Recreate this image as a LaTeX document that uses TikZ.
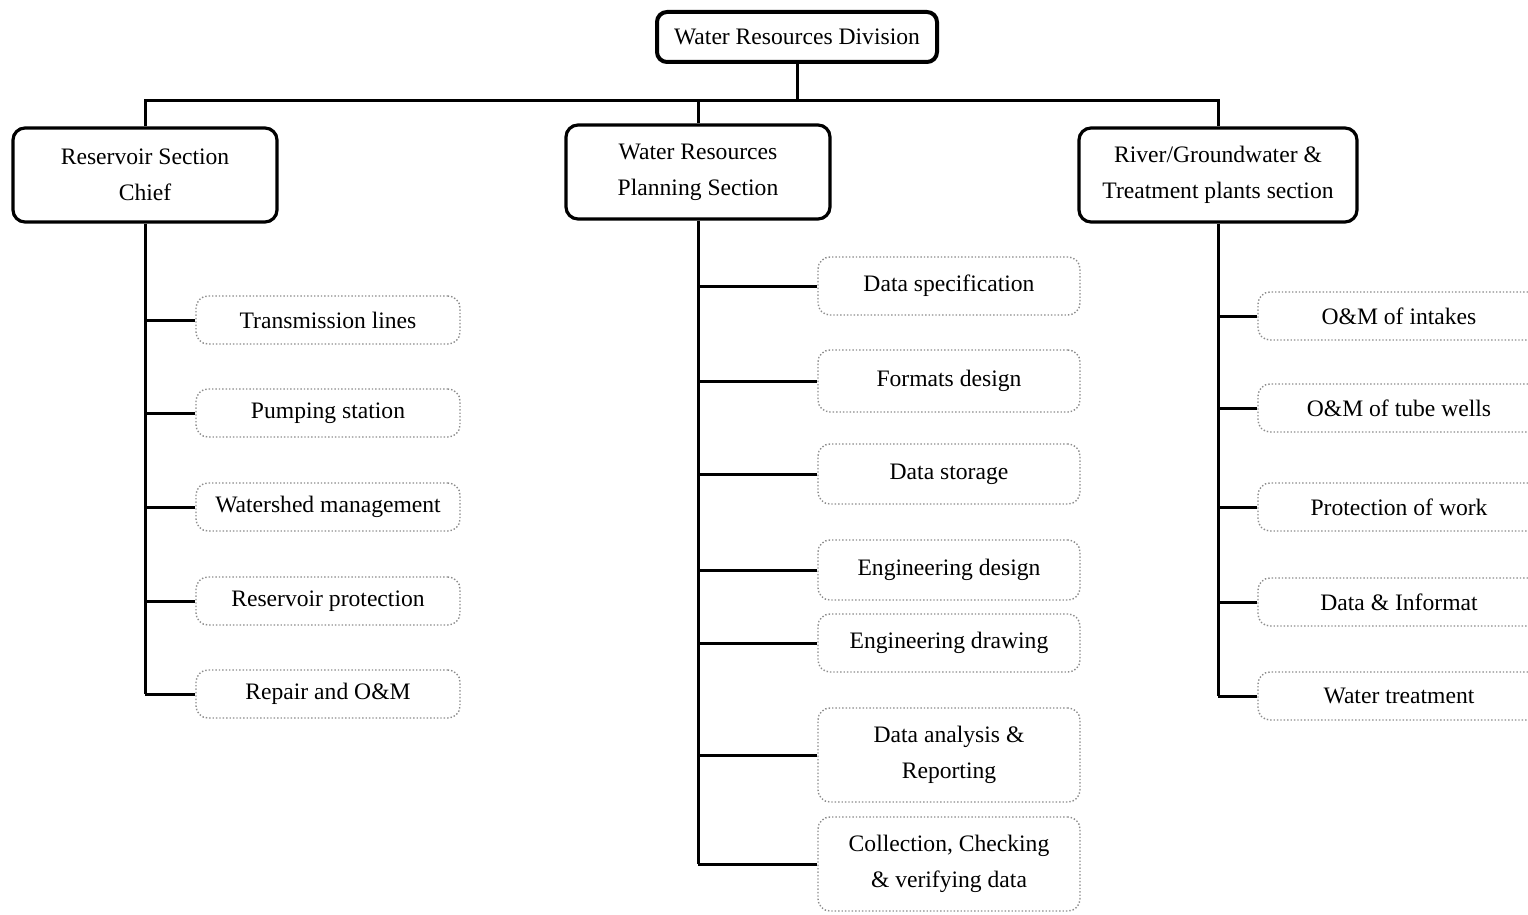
\documentclass[tikz,border=0pt]{standalone}
\usepackage{fontspec}
\setmainfont{Liberation Serif}

\tikzset{every picture/.style={line width=0.75pt}}
\tikzset{
  conn/.style={line width=1.5pt, black},
  topbox/.style={draw, line width=2pt, rounded corners=5pt, minimum width=140pt, minimum height=25pt, inner sep=0.75pt, font=\fontsize{11.8}{18}\selectfont},
  secbox/.style={draw, line width=1.6pt, rounded corners=6pt, minimum width=132pt, minimum height=47pt, align=center, inner sep=0.75pt, font=\fontsize{11.8}{18}\selectfont},
  taskbox/.style={draw=black!45, densely dotted, line width=0.7pt, rounded corners=6pt, minimum width=132pt, minimum height=24pt, align=center, inner sep=0.75pt, font=\fontsize{11.8}{18}\selectfont},
}

\begin{document}
\begin{tikzpicture}[x=0.5pt,y=0.5pt,yscale=-1,xscale=1]
        \useasboundingbox (0,0) rectangle (1528,915);

        % Top Node
        \node [topbox] (wrd) at (797,37) {Water Resources Division};
        % Section Nodes
        \node [secbox] (res) at (145,175) {Reservoir Section\\Chief};
        \node [secbox] (wrp) at (698,172) {Water Resources\\Planning Section};
        \node [secbox, minimum width=139pt] (riv) at (1218,175) {River/Groundwater \&\\Treatment plants section};

        % Bus line
        \coordinate (bus) at (797,101);
        \draw [conn] (wrd.south) -- (bus);
        \draw [conn] (res.north) |- (bus) -| (riv.north);
        \draw [conn] (wrp.north) -- (wrp.north |- bus);

        % Reservoir tasks
        \node [taskbox] (tl) at (328,320) {Transmission lines};
        \node [taskbox] (ps) at (328,413) {Pumping station};
        \node [taskbox] (wm) at (328,507) {Watershed management};
        \node [taskbox] (rp) at (328,601) {Reservoir protection};
        \node [taskbox] (rom) at (328,694) {Repair and O\&M};

        %Straight Lines
        \draw [conn] (res.south) -- (res.south |- rom.west);
        \draw [conn] (res.south |- tl.west) -- (tl.west);
        \draw [conn] (res.south |- ps.west) -- (ps.west);
        \draw [conn] (res.south |- wm.west) -- (wm.west);
        \draw [conn] (res.south |- rp.west) -- (rp.west);
        \draw [conn] (res.south |- rom.west) -- (rom.west);

        % Planning tasks
        \node [taskbox, minimum width=131pt, minimum height=29pt] (dsp) at (949,286) {Data specification};
        \node [taskbox, minimum width=131pt, minimum height=31pt] (fd) at (949,381) {Formats design};
        \node [taskbox, minimum width=131pt, minimum height=30pt] (dst) at (949,474) {Data storage};
        \node [taskbox, minimum width=131pt, minimum height=30pt] (ed) at (949,570) {Engineering design};
        \node [taskbox, minimum width=131pt, minimum height=29pt] (edr) at (949,643) {Engineering drawing};
        \node [taskbox, minimum width=131pt, minimum height=47pt] (dar) at (949,755) {Data analysis \&\\Reporting};
        \node [taskbox, minimum width=131pt, minimum height=47pt] (ccv) at (949,864) {Collection, Checking\\\& verifying data};

        %Straight Lines
        \draw [conn] (wrp.south) -- (wrp.south |- ccv.west);
        \draw [conn] (wrp.south |- dsp.west) -- (dsp.west);
        \draw [conn] (wrp.south |- fd.west) -- (fd.west);
        \draw [conn] (wrp.south |- dst.west) -- (dst.west);
        \draw [conn] (wrp.south |- ed.west) -- (ed.west);
        \draw [conn] (wrp.south |- edr.west) -- (edr.west);
        \draw [conn] (wrp.south |- dar.west) -- (dar.west);
        \draw [conn] (wrp.south |- ccv.west) -- (ccv.west);

        % River tasks
        \node [taskbox, minimum width=141pt] (oi) at (1399,316) {O\&M of intakes};
        \node [taskbox, minimum width=141pt] (otw) at (1399,408) {O\&M of tube wells};
        \node [taskbox, minimum width=141pt] (pw) at (1399,507) {Protection of work};
        \node [taskbox, minimum width=141pt] (di) at (1399,602) {Data \& Informat};
        \node [taskbox, minimum width=141pt] (wt) at (1399,696) {Water treatment};

        %Straight Lines
        \draw [conn] (riv.south) -- (riv.south |- wt.west);
        \draw [conn] (riv.south |- oi.west) -- (oi.west);
        \draw [conn] (riv.south |- otw.west) -- (otw.west);
        \draw [conn] (riv.south |- pw.west) -- (pw.west);
        \draw [conn] (riv.south |- di.west) -- (di.west);
        \draw [conn] (riv.south |- wt.west) -- (wt.west);

\end{tikzpicture}
\end{document}
